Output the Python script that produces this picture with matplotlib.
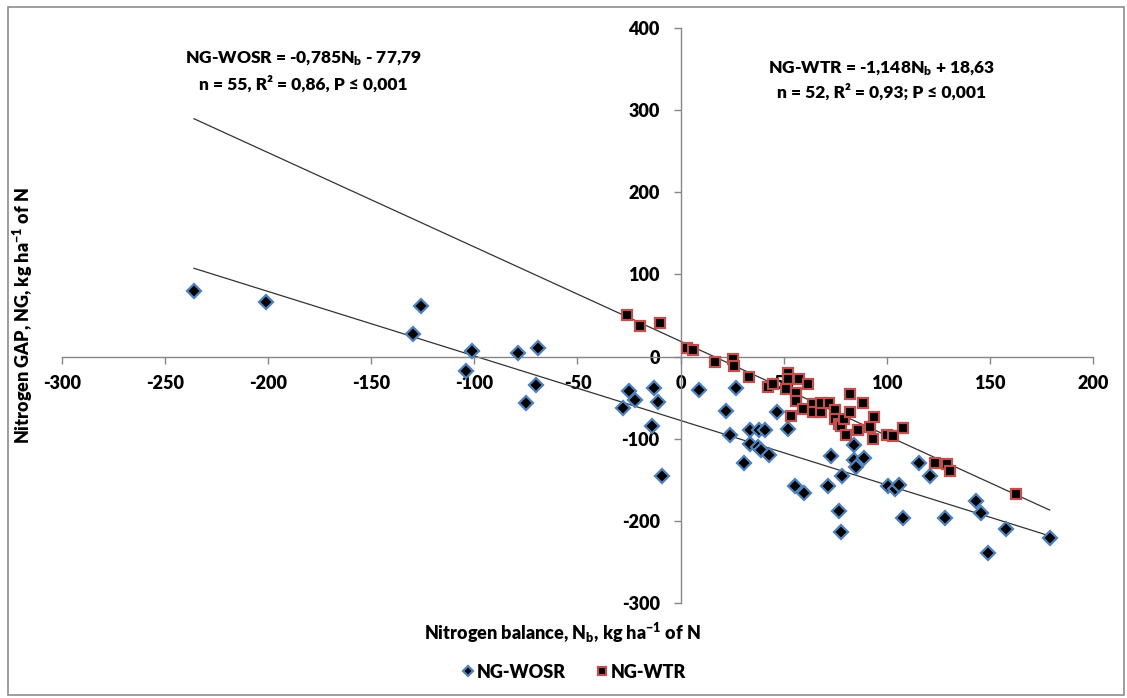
import matplotlib
matplotlib.use("Agg")
import matplotlib.pyplot as plt
from matplotlib.patches import Rectangle
import numpy as np

# NG-WOSR points (Nitrogen balance, Nitrogen GAP)
wosr_nb = [-236, -201, -130, -126, -101, -104, -79, -69, -75, -70,
           -28, -25, -22, -13, -11, -14, -9, 9, 27, 22,
           24, 31, 33.5, 33.5, 37.5, 38, 41, 39, 43, 47,
           52, 55.5, 60, 71.5, 73, 78.5, 77, 78, 84, 84,
           85, 89, 100.5, 104, 106, 108, 115.5, 121, 128, 143.5,
           145.5, 149, 158, 179]
wosr_ng = [80, 66, 27, 62, 7, -17, 4, 11, -56, -35,
           -63, -42, -53, -38, -55, -84, -145, -41, -38, -66,
           -95, -130, -89, -106, -110, -90, -90, -114, -120, -68,
           -88, -157, -166, -157, -121, -145, -188, -213, -108, -126,
           -134, -124, -157, -161, -156, -197, -130, -145, -197, -176,
           -191, -239, -210, -221]

# NG-WTR points
wtr_nb = [-26, -19.5, -10, 3, 6, 16.5, 25.5, 26, 33, 42.5,
          45, 52, 52, 51.3, 57.5, 61.7, 56, 56, 53.7, 59.3,
          64, 64, 68, 68, 72, 74.7, 74.7, 77, 78, 79.5,
          80, 82, 82.4, 88.7, 86, 91.7, 93.6, 93.3, 100, 103,
          108, 123.5, 129.4, 130.5, 162.5]
wtr_ng = [51, 37, 41, 11, 8.5, -7, -3.5, -11, -25, -37,
          -34, -20, -27, -40, -27, -33.5, -44, -54, -72, -64,
          -58, -68, -67, -56, -56, -65, -76, -82, -84, -76,
          -96, -46, -67, -56, -89, -86, -74, -100, -96, -97,
          -87, -130, -131, -139, -167]

# regression coefficients (slope, intercept) from the chart labels
wosr_fit = (-0.785, -77.79)
wtr_fit = (-1.148, 18.63)
fit_range = (-236, 179)

x_ticks = list(range(-300, 201, 50))
y_ticks = list(range(-300, 401, 100))

plt.rcParams['font.family'] = ['Lato', 'DejaVu Sans']
plt.rcParams['font.weight'] = 'heavy'
plt.rcParams['axes.unicode_minus'] = False
plt.rcParams['mathtext.fontset'] = 'custom'
plt.rcParams['mathtext.rm'] = 'Lato:heavy'
plt.rcParams['mathtext.bf'] = 'Lato:heavy'
plt.rcParams['mathtext.it'] = 'Lato:heavy'
plt.rcParams['mathtext.default'] = 'regular'

fig = plt.figure(figsize=(11.27, 6.98), dpi=100)
ax = fig.add_axes([0.0550, 0.1361, 0.9148, 0.8238])

axis_col = '#868686'
ax.set_xlim(-300, 200)
ax.set_ylim(-300, 400)
ax.spines['left'].set_position(('data', 0))
ax.spines['bottom'].set_position(('data', 0))
ax.spines['right'].set_visible(False)
ax.spines['top'].set_visible(False)
for s in ('left', 'bottom'):
    ax.spines[s].set_color(axis_col)
    ax.spines[s].set_linewidth(1.0)
ax.set_xticks(x_ticks)
ax.set_yticks(y_ticks)
ax.tick_params(axis='both', direction='out', length=5, color=axis_col,
               labelsize=13, width=1)
ax.tick_params(axis='x', pad=8)
ax.tick_params(axis='y', pad=10)

# trend lines
xf = np.array(fit_range, dtype=float)
ax.plot(xf, wtr_fit[0] * xf + wtr_fit[1], color='#333333', lw=0.9, zorder=2)
ax.plot(xf, wosr_fit[0] * xf + wosr_fit[1], color='#333333', lw=0.9, zorder=2)

# points
ax.plot(wosr_nb, wosr_ng, linestyle='none', marker='D', markersize=7,
        markerfacecolor='black', markeredgecolor='#4F81BD', markeredgewidth=1.6,
        label='NG-WOSR', zorder=3)
ax.plot(wtr_nb, wtr_ng, linestyle='none', marker='s', markersize=7.5,
        markerfacecolor='black', markeredgecolor='#C0504D', markeredgewidth=1.6,
        label='NG-WTR', zorder=4)

# equations
ax.text(-183, 362, r"NG-WOSR = -0,785N$_{b}$ - 77,79", ha='center',
        va='center', fontsize=12.5)
ax.text(-183, 332, "n = 55, R² = 0,86, P ≤ 0,001", ha='center',
        va='center', fontsize=12.5)
ax.text(97.5, 350, r"NG-WTR = -1,148N$_{b}$ + 18,63", ha='center',
        va='center', fontsize=12.5)
ax.text(97.5, 322, "n = 52, R² = 0,93; P ≤ 0,001", ha='center',
        va='center', fontsize=12.5)

# axis titles
fig.text(0.020, 0.548, r"Nitrogen GAP, NG, kg ha$^{-1}$ of N", rotation=90,
         ha='center', va='center', fontsize=13)
fig.text(0.499, 0.093, r"Nitrogen balance, N$_{b}$, kg ha$^{-1}$ of N",
         ha='center', va='center', fontsize=13)

fig.legend(loc='center', bbox_to_anchor=(0.509, 0.037), ncol=2, frameon=False,
           fontsize=13, handletextpad=0.1, columnspacing=1.6,
           handlelength=0.8, markerscale=0.75)

# outer frame
fig.patches.append(Rectangle((0.007, 0.004), 0.99, 0.986, transform=fig.transFigure,
                             fill=False, edgecolor='#8c8c8c', linewidth=1.2))

fig.savefig('out.png', dpi=100)
